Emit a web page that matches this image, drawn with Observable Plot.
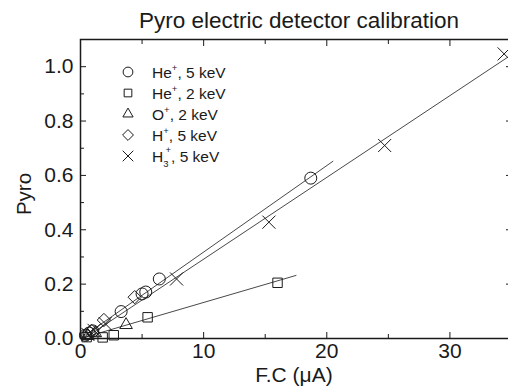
<!DOCTYPE html>
<html><head><meta charset="utf-8">
<script src="https://cdn.jsdelivr.net/npm/d3@7"></script>
<script src="https://cdn.jsdelivr.net/npm/@observablehq/plot@0.6"></script>
<style>
body{margin:0;background:#fff;font-family:"Liberation Sans",Arial,sans-serif;}
#wrap{position:relative;width:508px;height:388px;overflow:hidden;}
</style></head><body>
<div id="wrap"><div id="chart"></div></div>
<script>
const title = "Pyro electric detector calibration";
const xLabel = "F.C (μA)";
const yLabel = "Pyro";
const series = ["He+, 5 keV","He+, 2 keV","O+, 2 keV","H+, 5 keV","H3+, 5 keV"];
const symbols = ["circle","square2","triangle2","diamond2","times"];
const he5X = [0.4, 0.7, 1.0, 3.3, 5.0, 5.3, 6.4, 18.7];
const he5Y = [0.012, 0.02, 0.028, 0.099, 0.164, 0.171, 0.219, 0.59];
const he2X = [0.5, 1.8, 2.7, 5.45, 16.0];
const he2Y = [0.005, 0.004, 0.012, 0.078, 0.205];
const o2X = [0.6, 1.2, 3.7];
const o2Y = [0.01, 0.02, 0.05];
const h5X = [0.5, 0.9, 1.9, 4.4];
const h5Y = [0.015, 0.028, 0.068, 0.152];
const h3X = [0.6, 1.1, 2.0, 7.8, 15.3, 24.7, 34.4];
const h3Y = [0.015, 0.03, 0.055, 0.219, 0.428, 0.71, 1.047];
// fitted lines (endpoints)
const fitHe5X = [0, 20.5], fitHe5Y = [0, 0.652];
const fitH3X = [0.3, 34.8], fitH3Y = [0, 1.038];
const fitHe2X = [0, 17.5], fitHe2Y = [0, 0.232];
const xMajor = [0, 10, 20, 30], xMinor = [5, 15, 25];
const yMajor = [0, 0.2, 0.4, 0.6, 0.8, 1.0], yMinor = [0.1, 0.3, 0.5, 0.7, 0.9];

const pts = [];
[[he5X,he5Y],[he2X,he2Y],[o2X,o2Y],[h5X,h5Y],[h3X,h3Y]].forEach(([xs,ys],i)=>
  xs.forEach((x,j)=>pts.push({x, y: ys[j], s: series[i]})));
const fits = [];
[[fitHe5X,fitHe5Y,"a"],[fitH3X,fitH3Y,"b"],[fitHe2X,fitHe2Y,"c"]].forEach(([xs,ys,k])=>
  xs.forEach((x,j)=>fits.push({x, y: ys[j], k})));

const ink = "#1a1a1a";
const none = () => "";
const plot = Plot.plot({
  width: 508, height: 388,
  marginLeft: 80, marginRight: -3, marginTop: 39, marginBottom: 50,
  style: {fontFamily: '"Liberation Sans", Arial, sans-serif', color: ink, background: "white"},
  x: {domain: [0, 35]},
  y: {domain: [0, 1.1]},
  symbol: {domain: series, range: symbols},
  marks: [
    Plot.line(fits, {x: "x", y: "y", z: "k", stroke: "#333", strokeWidth: 0.9}),
    Plot.dot(pts, {x: "x", y: "y", symbol: "s", r: 6, stroke: ink, strokeWidth: 1, fill: "none"}),
    Plot.frame({stroke: ink, strokeWidth: 1.5}),
    Plot.axisX({anchor: "bottom", ticks: xMajor, tickSize: -6, tickPadding: 11, fontSize: 21, label: null}),
    Plot.axisX({anchor: "bottom", ticks: xMinor, tickSize: -4, tickFormat: none, label: null}),
    Plot.axisX({anchor: "top", ticks: xMajor, tickSize: -6, tickFormat: none, label: null}),
    Plot.axisX({anchor: "top", ticks: xMinor, tickSize: -4, tickFormat: none, label: null}),
    Plot.axisY({anchor: "left", ticks: yMajor, tickSize: -6, tickPadding: 13, fontSize: 21, tickFormat: d3.format(".1f"), label: null}),
    Plot.axisY({anchor: "left", ticks: yMinor, tickSize: -4, tickFormat: none, label: null}),
    Plot.axisY({anchor: "right", ticks: yMajor, tickSize: -6, tickFormat: none, label: null}),
    Plot.axisY({anchor: "right", ticks: yMinor, tickSize: -4, tickFormat: none, label: null})
  ]
});
document.getElementById("chart").appendChild(plot);

// title, axis titles and legend
const svg = d3.select(plot);
svg.append("text").attr("x", 299).attr("y", 28).attr("text-anchor", "middle")
  .attr("font-size", 22.5).attr("fill", ink).text(title);
svg.append("text").attr("x", 294).attr("y", 382).attr("text-anchor", "middle")
  .attr("font-size", 21).attr("fill", ink).text(xLabel);
svg.append("text").attr("transform", "translate(31,194) rotate(-90)").attr("text-anchor", "middle")
  .attr("font-size", 20.5).attr("fill", ink).text(yLabel);

const symType = {circle: d3.symbolCircle, square2: d3.symbolSquare2, triangle2: d3.symbolTriangle2, diamond2: d3.symbolDiamond2, times: d3.symbolTimes};
const legParts = [["He","+","",", 5 keV"],["He","+","",", 2 keV"],["O","+","",", 2 keV"],["H","+","",", 5 keV"],["H","+","3",", 5 keV"]];
const lg = svg.append("g").attr("font-size", 15.5).attr("fill", ink).attr("text-anchor", "start");
series.forEach((s, i) => {
  const y = 72 + i * 21;
  lg.append("path").attr("d", d3.symbol(symType[symbols[i]], 75)())
    .attr("transform", `translate(128,${y})`).attr("fill", "none").attr("stroke", ink).attr("stroke-width", 1);
  const t = lg.append("text").attr("x", 152).attr("y", y + 5.5);
  const [base, sup, sub, rest] = legParts[i];
  t.append("tspan").text(base);
  if (sub) {
    t.append("tspan").attr("font-size", 9.5).attr("dy", 5).text(sub);
    t.append("tspan").attr("font-size", 9.5).attr("dx", -3).attr("dy", -14).text(sup);
    t.append("tspan").attr("dy", 9).text(rest);
  } else {
    t.append("tspan").attr("font-size", 9.5).attr("dy", -7).text(sup);
    t.append("tspan").attr("dy", 7).text(rest);
  }
});
</script></body></html>
